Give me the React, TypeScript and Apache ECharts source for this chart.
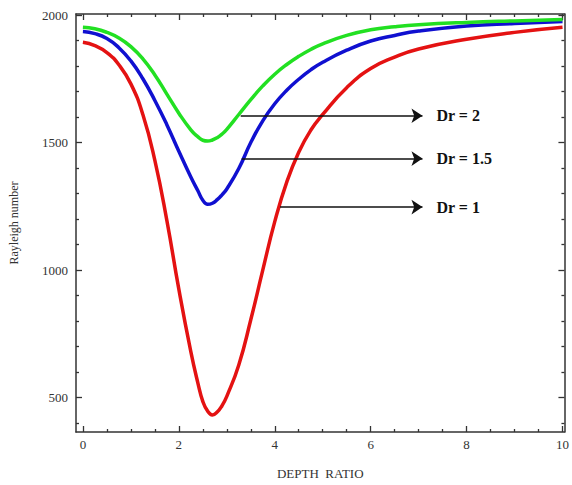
import React, { useEffect, useRef } from "react";
import * as echarts from "echarts";

const xValues = [0, 0.25, 0.5, 0.75, 1, 1.25, 1.5, 1.75, 2, 2.25, 2.4, 2.5, 2.6, 2.7, 2.8, 2.9, 3, 3.25, 3.5, 3.75, 4, 4.25, 4.5, 4.75, 5, 5.5, 6, 6.5, 7, 8, 9, 10];

const redDr1 = [1893, 1880, 1853, 1805, 1730, 1610, 1430, 1195, 925, 680, 555, 485, 447, 432, 443, 468, 505, 628, 805, 1000, 1190, 1345, 1462, 1548, 1610, 1715, 1790, 1835, 1867, 1905, 1932, 1952];
const blueDr15 = [1935, 1927, 1908, 1872, 1820, 1750, 1665, 1570, 1466, 1365, 1310, 1274, 1258, 1262, 1276, 1295, 1318, 1398, 1500, 1585, 1652, 1705, 1748, 1785, 1815, 1862, 1898, 1920, 1937, 1957, 1967, 1975];
const greenDr2 = [1952, 1946, 1932, 1910, 1876, 1828, 1765, 1690, 1615, 1550, 1522, 1509, 1506, 1510, 1519, 1533, 1552, 1610, 1668, 1722, 1768, 1806, 1838, 1865, 1887, 1920, 1942, 1954, 1962, 1971, 1977, 1982];

const xMajor = [0, 2, 4, 6, 8, 10];
const xMinor = [0.5, 1, 1.5, 2.5, 3, 3.5, 4.5, 5, 5.5, 6.5, 7, 7.5, 8.5, 9, 9.5];
const yMajor = [500, 1000, 1500, 2000];
const yMinor = [400, 600, 700, 800, 900, 1100, 1200, 1300, 1400, 1600, 1700, 1800, 1900];

// arrow annotations
const arrowLabels = ["Dr = 2", "Dr = 1.5", "Dr = 1"];
const arrowStartX = [3.29, 3.31, 4.11];
const arrowEndX = [7.08, 7.08, 7.08];
const arrowY = [1605, 1437, 1247];

const X_MIN = -0.144;
const X_MAX = 10.04;
const Y_MIN = 365;
const Y_MAX = 2004;

const serif = "'Liberation Serif', 'DejaVu Serif', serif";

function makeX(position: string, ticks: number[], len: number, showLine: boolean, showLabel: boolean) {
  return {
    type: "value",
    position,
    min: X_MIN,
    max: X_MAX,
    axisLine: { show: showLine, onZero: false, lineStyle: { color: "#333", width: 1.5 } },
    axisTick: { show: true, inside: true, length: len, customValues: ticks, lineStyle: { color: "#333", width: 1.3 } },
    axisLabel: showLabel
      ? { show: true, customValues: xMajor, color: "#333", fontFamily: serif, fontSize: 13, margin: 6, formatter: (v: number) => String(v) }
      : { show: false },
    splitLine: { show: false },
  };
}

function makeY(position: string, ticks: number[], len: number, showLine: boolean, showLabel: boolean) {
  return {
    type: "value",
    position,
    min: Y_MIN,
    max: Y_MAX,
    axisLine: { show: showLine, onZero: false, lineStyle: { color: "#333", width: 1.5 } },
    axisTick: { show: true, inside: true, length: len, customValues: ticks, lineStyle: { color: "#333", width: 1.3 } },
    axisLabel: showLabel
      ? { show: true, customValues: yMajor, color: "#333", fontFamily: serif, fontSize: 13, margin: 8, formatter: (v: number) => String(v) }
      : { show: false },
    splitLine: { show: false },
  };
}

export default function App() {
  const ref = useRef<HTMLDivElement>(null);

  useEffect(() => {
    if (!ref.current) return;
    const chart = echarts.init(ref.current, null, { renderer: "svg" });

    const xAxis0: any = makeX("bottom", xMajor, 6, true, true);
    xAxis0.name = "DEPTH  RATIO";
    xAxis0.nameLocation = "middle";
    xAxis0.nameGap = 35;
    xAxis0.nameTextStyle = { fontFamily: serif, fontSize: 13, color: "#333" };

    const yAxis0: any = makeY("left", yMajor, 6, true, true);
    yAxis0.name = "Rayleigh number";
    yAxis0.nameLocation = "middle";
    yAxis0.nameGap = 56;
    yAxis0.nameTextStyle = { fontFamily: serif, fontSize: 12, color: "#333" };

    const toData = (ys: number[]) => xValues.map((x, i) => [x, ys[i]]);

    const markData = arrowLabels.map((lab, i) => [
      { coord: [arrowStartX[i], arrowY[i]], label: { formatter: lab } },
      { coord: [arrowEndX[i], arrowY[i]] },
    ]);

    const lineSeries = (name: string, ys: number[], color: string, z: number) => ({
      name,
      type: "line",
      xAxisIndex: 0,
      yAxisIndex: 0,
      data: toData(ys),
      smooth: 0.5,
      showSymbol: false,
      lineStyle: { color, width: 3.5 },
      z,
    });

    const green: any = lineSeries("Dr = 2", greenDr2, "#22e022", 5);
    green.markLine = {
      silent: true,
      symbol: ["none", "arrow"],
      symbolSize: 11,
      lineStyle: { color: "#111", width: 1.5, type: "solid" },
      label: {
        show: true,
        position: "end",
        distance: 14,
        color: "#111",
        fontFamily: serif,
        fontWeight: "bold",
        fontSize: 16,
      },
      emphasis: { disabled: true },
      data: markData,
      z: 6,
    };

    chart.setOption({
      animation: false,
      backgroundColor: "#fff",
      grid: { left: 71, right: 5, top: 14, bottom: 47, containLabel: false },
      xAxis: [
        xAxis0,
        makeX("bottom", xMinor, 3, false, false),
        makeX("top", xMajor, 6, true, false),
        makeX("top", xMinor, 3, false, false),
      ],
      yAxis: [
        yAxis0,
        makeY("left", yMinor, 3, false, false),
        makeY("right", yMajor, 6, true, false),
        makeY("right", yMinor, 3, false, false),
      ],
      series: [
        lineSeries("Dr = 1", redDr1, "#e41212", 3),
        lineSeries("Dr = 1.5", blueDr15, "#1010d0", 4),
        green,
      ],
    });

    return () => chart.dispose();
  }, []);

  return (
    <div
      ref={ref}
      style={{ position: "fixed", left: 0, top: 0, width: 572, height: 485 }}
    />
  );
}
